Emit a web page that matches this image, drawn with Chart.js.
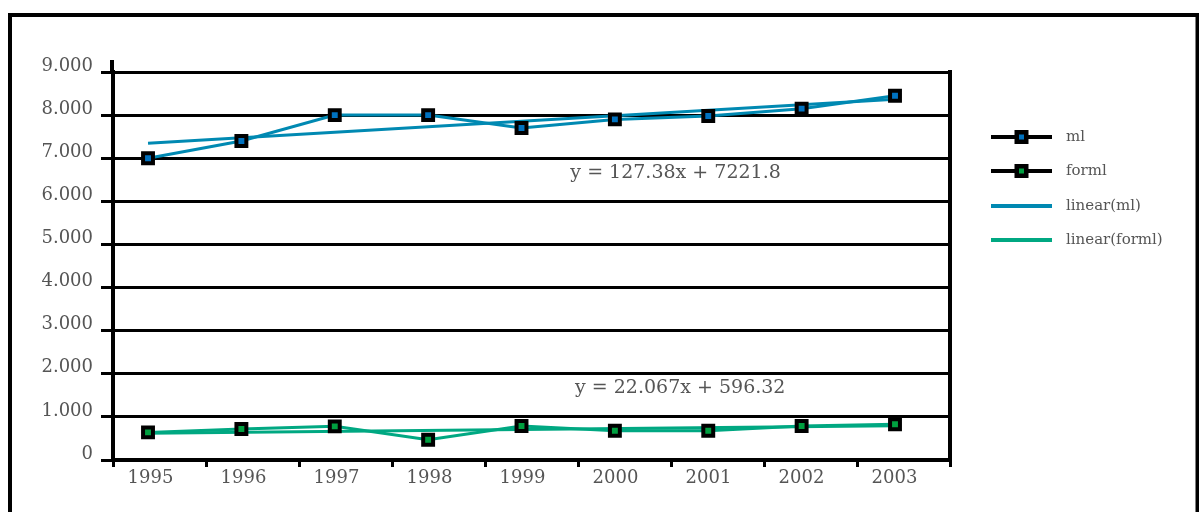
<!DOCTYPE html>
<html>
<head>
<meta charset="utf-8">
<script src="https://cdn.jsdelivr.net/npm/chart.js@4.4.1/dist/chart.umd.min.js"></script>
<style>
  html, body { margin: 0; padding: 0; background: #ffffff; }
  #wrap { width: 1199px; height: 512px; position: relative; }
</style>
</head>
<body>
<div id="wrap"><canvas id="c" width="1199" height="512"></canvas></div>
<script>
// ---- data ----
const years = [1995, 1996, 1997, 1998, 1999, 2000, 2001, 2002, 2003];
const yearLabels = years.map(String);
const mlValues = [7000, 7400, 8000, 8000, 7700, 7900, 7980, 8150, 8450];
const formlValues = [640, 720, 780, 470, 790, 680, 680, 790, 830];
const yTickValues = [0, 1000, 2000, 3000, 4000, 5000, 6000, 7000, 8000, 9000];
const seriesNames = ['ml', 'forml', 'linear(ml)', 'linear(forml)'];

// fitted trend lines (x = 1 .. n)
const mlSlope = 127.38, mlIntercept = 7221.8;
const formlSlope = 22.067, formlIntercept = 596.32;

// ---- styling ----
const BLUE = '#0089b2';
const GREEN = '#00a882';
const BLUE_DOT = '#0072c0';
const GREEN_DOT = '#00a040';
const TEXT = '#555555';
const FONT = 'DejaVu Serif';

function trendPoints(slope, intercept) {
  const n = years.length;
  return [
    { x: years[0], y: intercept + slope * 1 },
    { x: years[n - 1], y: intercept + slope * n }
  ];
}
function thousands(v) {
  return String(v).replace(/\B(?=(\d{3})+(?!\d))/g, '.');
}

// outer frame, right edge of plot box
const framePlugin = {
  id: 'frame',
  afterDraw(chart) {
    const { ctx, chartArea } = chart;
    ctx.save();
    ctx.strokeStyle = '#000';
    ctx.lineWidth = 4;
    ctx.strokeRect(10, 15, 1187.5, 700);
    ctx.beginPath();
    ctx.moveTo(chartArea.right, chartArea.top - 2);
    ctx.lineTo(chartArea.right, chartArea.bottom);
    ctx.stroke();
    ctx.beginPath();
    ctx.moveTo(chartArea.left - 1, chartArea.top - 12);
    ctx.lineTo(chartArea.left - 1, chartArea.top);
    ctx.stroke();
    ctx.restore();
  }
};

// trend equations
const equationPlugin = {
  id: 'equations',
  afterDatasetsDraw(chart) {
    const { ctx, scales } = chart;
    const xd = scales.xd, y = scales.y;
    ctx.save();
    ctx.font = '19px "' + FONT + '"';
    ctx.fillStyle = TEXT;
    ctx.textAlign = 'center';
    ctx.textBaseline = 'middle';
    ctx.fillText('y = ' + mlSlope + 'x + ' + mlIntercept, xd.getPixelForValue(2000.65), y.getPixelForValue(6650));
    ctx.fillText('y = ' + formlSlope + 'x + ' + formlIntercept, xd.getPixelForValue(2000.7), y.getPixelForValue(1670));
    ctx.restore();
  }
};

// legend on the right
const legendPlugin = {
  id: 'sideLegend',
  afterDraw(chart) {
    const { ctx } = chart;
    const x0 = 991, x1 = 1052, tx = 1066;
    const rows = [137, 171, 206, 240];
    ctx.save();
    chart.data.datasets.forEach((ds, i) => {
      const yy = rows[i];
      ctx.lineWidth = 4;
      ctx.strokeStyle = ds.isTrend ? ds.borderColor : '#000';
      ctx.beginPath();
      ctx.moveTo(x0, yy);
      ctx.lineTo(x1, yy);
      ctx.stroke();
      if (!ds.isTrend) {
        const cx = (x0 + x1) / 2;
        ctx.fillStyle = '#000';
        ctx.fillRect(cx - 7, yy - 7, 14, 14);
        ctx.fillStyle = ds.pointBackgroundColor;
        ctx.fillRect(cx - 2.5, yy - 2.5, 5, 5);
      }
      ctx.font = '15px "' + FONT + '"';
      ctx.fillStyle = TEXT;
      ctx.textAlign = 'left';
      ctx.textBaseline = 'middle';
      ctx.fillText(ds.label, tx, yy);
    });
    ctx.restore();
  }
};

const pointSeries = (label, values, line, dot) => ({
  label,
  data: values.map((v, i) => ({ x: years[i], y: v })),
  xAxisID: 'xd',
  borderColor: line,
  borderWidth: 3,
  pointStyle: 'rect',
  pointRadius: 7,
  pointHoverRadius: 7,
  pointBorderWidth: 4,
  pointBorderColor: '#000',
  pointBackgroundColor: dot,
  tension: 0,
  isTrend: false
});
const trendSeries = (label, pts, color) => ({
  label,
  data: pts,
  xAxisID: 'xd',
  borderColor: color,
  borderWidth: 3,
  pointRadius: 0,
  pointHoverRadius: 0,
  tension: 0,
  isTrend: true
});

new Chart(document.getElementById('c'), {
  type: 'line',
  data: {
    datasets: [
      pointSeries(seriesNames[0], mlValues, BLUE, BLUE_DOT),
      pointSeries(seriesNames[1], formlValues, GREEN, GREEN_DOT),
      trendSeries(seriesNames[2], trendPoints(mlSlope, mlIntercept), BLUE),
      trendSeries(seriesNames[3], trendPoints(formlSlope, formlIntercept), GREEN)
    ]
  },
  options: {
    responsive: false,
    devicePixelRatio: 1,
    animation: false,
    layout: { padding: { top: 72, right: 249, bottom: 0, left: 0 } },
    plugins: {
      legend: { display: false },
      tooltip: { enabled: false }
    },
    scales: {
      x: {
        type: 'category',
        labels: yearLabels,
        offset: true,
        grid: {
          offset: true,
          drawOnChartArea: false,
          drawTicks: true,
          tickLength: 7,
          color: '#000',
          lineWidth: 3
        },
        border: { display: true, color: '#000', width: 4 },
        ticks: {
          autoSkip: false,
          maxRotation: 0,
          padding: 1,
          labelOffset: -9,
          color: TEXT,
          font: { family: FONT, size: 18 }
        },
        afterFit(scale) { scale.height = 52; }
      },
      xd: {
        type: 'linear',
        axis: 'x',
        position: 'bottom',
        display: false,
        min: 1994.625,
        max: 2003.589
      },
      y: {
        type: 'linear',
        min: 0,
        max: 9000,
        afterBuildTicks(scale) { scale.ticks = yTickValues.map(v => ({ value: v })); },
        grid: {
          color: '#000',
          lineWidth: 3,
          drawTicks: true,
          tickLength: 12
        },
        border: { display: true, color: '#000', width: 4 },
        ticks: {
          padding: 8,
          labelOffset: -6,
          color: TEXT,
          font: { family: FONT, size: 18 },
          callback: v => thousands(v)
        },
        afterFit(scale) { scale.width = 113; }
      }
    }
  },
  plugins: [framePlugin, equationPlugin, legendPlugin]
});
</script>
</body>
</html>
